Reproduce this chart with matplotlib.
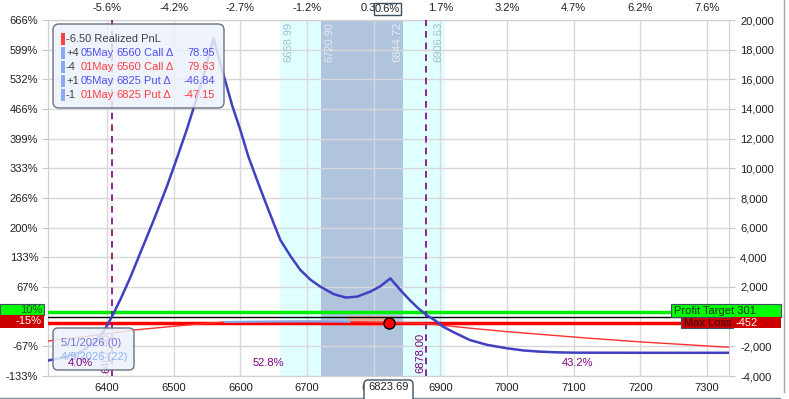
import matplotlib
matplotlib.use('Agg')
import numpy as np
import matplotlib.pyplot as plt
from matplotlib.patches import Rectangle, FancyBboxPatch
from matplotlib.lines import Line2D
from matplotlib.transforms import Affine2D, blended_transform_factory

plt.rcParams['font.family'] = ['Liberation Sans', 'DejaVu Sans']
plt.rcParams['font.size'] = 8

# ---------------- data ----------------
exp_price = [6312, 6330, 6350, 6365, 6380, 6395, 6407.4, 6420, 6435, 6450, 6470, 6490,
             6505, 6520, 6535, 6545, 6553, 6560, 6568, 6577, 6588, 6600, 6612, 6625,
             6637, 6650, 6660, 6675, 6690, 6705, 6720, 6740, 6758, 6775, 6795, 6810,
             6825, 6840, 6854, 6866, 6879, 6892, 6904, 6920, 6944, 6970, 7000, 7025,
             7050, 7075, 7100, 7200, 7333]
exp_pnl = [-2950, -2800, -2560, -2250, -1750, -1000, 0, 1150, 2650, 4300, 6500, 8800,
           10700, 12650, 14800, 16300, 17650, 18750, 17400, 15960, 14200, 12590, 10800, 9218,
           7800, 6298, 5172, 4100, 3150, 2500, 2023, 1520, 1290, 1350, 1686, 2050,
           2580, 1800, 1126, 600, 115, -250, -674, -1050, -1571, -1900, -2131, -2280,
           -2360, -2405, -2427, -2435, -2435]

t0_price = [6312, 6400, 6440, 6500, 6540, 6577, 6610, 6650, 6700, 6764, 6824, 6874,
            6950, 7000, 7124, 7200, 7333]
t0_pnl = [-1640, -1160, -900, -650, -480, -360, -340, -330, -320, -340, -400, -450,
          -800, -1010, -1456, -1700, -2063]
t0_blue_range = (6577, 6764)

pnl_ticks = [-4000, -2000, 2000, 4000, 6000, 8000, 10000, 12000, 14000, 16000, 18000, 20000]
pnl_labels = ['-4,000', '-2,000', '2,000', '4,000', '6,000', '8,000', '10,000', '12,000',
              '14,000', '16,000', '18,000', '20,000']
pct_labels = ['-133%', '-67%', '67%', '133%', '200%', '266%', '333%', '399%',
              '466%', '532%', '599%', '666%']
price_ticks = [6400, 6500, 6600, 6700, 6800, 6900, 7000, 7100, 7200, 7300]
move_labels = ['-5.6%', '-4.2%', '-2.7%', '-1.2%', '0.3%', '1.7%', '3.2%', '4.7%', '6.2%', '7.6%']

outer_band = (6658.99, 6906.63)
inner_band = (6720.90, 6844.72)
breakevens = [6407.40, 6878.00]
prob_labels = ['4.0%', '52.8%', '43.2%']
current_price = 6823.69
current_pnl = -400
current_move = '0.6%'
profit_target = 301
max_loss = -452
range_box = (6762, 6829, -620, 50)

legend_rows = [
    ('', '-6.50 Realized PnL', '', '', '', 'pnl'),
    ('+4', '05May', '6560', 'Call \u0394', '78.95', 'long'),
    ('-4', '01May', '6560', 'Call \u0394', '79.63', 'short'),
    ('+1', '05May', '6825', 'Put \u0394', '-46.84', 'long'),
    ('-1', '01May', '6825', 'Put \u0394', '-47.15', 'short'),
]
date_rows = ['5/1/2026 (0)', '4/9/2026 (22)']

# ---------------- figure ----------------
W, H = 789, 399
fig = plt.figure(figsize=(W / 100, H / 100), dpi=100)
fig.patch.set_facecolor('white')
ax = fig.add_axes([48 / W, 1 - 376 / H, (729 - 48) / W, (376 - 20) / H])
P = Affine2D().scale(1 / W, 1 / H) + fig.transFigure


def Y(y):
    return H - y


xmin, xmax = 6311.5, 7333
ax.set_xlim(xmin, xmax)
ax.set_ylim(-4000, 20000)

ax.axvspan(*outer_band, color='#e0ffff', lw=0, zorder=0.2)
ax.axvspan(*inner_band, color='#b0c4de', lw=0, zorder=0.3)

ax.set_xticks(price_ticks)
ax.set_yticks(pnl_ticks, labels=pnl_labels)
ax.grid(True, color='#d8d8d8', lw=1)
ax.yaxis.tick_right()
ax.tick_params(axis='y', length=4, color='#c8c8c8', pad=4, labelsize=8, labelcolor='#202020')
ax.tick_params(axis='x', length=0, pad=5, labelsize=8, labelcolor='#202020')
for s in ax.spines.values():
    s.set_color('#d0d0d0')

secl = ax.secondary_yaxis('left')
secl.set_yticks(pnl_ticks, labels=pct_labels)
secl.tick_params(length=4, color='#c8c8c8', pad=3, labelsize=8, labelcolor='#202020')
secl.spines['left'].set_color('#d0d0d0')

sect = ax.secondary_xaxis('top')
sect.set_xticks(price_ticks, labels=move_labels)
sect.tick_params(length=0, pad=5, labelsize=8, labelcolor='#202020')
sect.spines['top'].set_color('#d0d0d0')

# range box
ax.add_patch(Rectangle((range_box[0], range_box[2]), range_box[1] - range_box[0],
                       range_box[3] - range_box[2], facecolor='#e8a890', lw=0, zorder=2.5))

# horizontal levels
ax.axhline(profit_target, color='#00ee00', lw=2.5, zorder=3)
ax.axhline(0, color='black', lw=1, zorder=3)
ax.axhline(max_loss, color='#ff0000', lw=2.5, zorder=3)

# breakevens
bt = blended_transform_factory(ax.transData, P)
for be in breakevens:
    ax.axvline(be, color='#800080', lw=1.2, ls=(0, (4, 3)), zorder=3.5)
    ax.text(be - 8, Y(373), f'{be:.2f}', rotation=90, ha='center', va='bottom',
            color='#800080', fontsize=8, transform=bt, zorder=6)

# band labels
ax.text(outer_band[0] + 13, Y(22), f'{outer_band[0]:.2f}', rotation=90, ha='center', va='top',
        color='#a6bcd4', fontsize=8, transform=bt)
ax.text(inner_band[0] + 12.5, Y(22), f'{inner_band[0]:.2f}', rotation=90, ha='center', va='top',
        color='#e4ebf4', fontsize=8, transform=bt)
ax.text(inner_band[1] - 9, Y(22), f'{inner_band[1]:.2f}', rotation=90, ha='center', va='top',
        color='#e4ebf4', fontsize=8, transform=bt)
ax.text(outer_band[1] - 9.5, Y(22), f'{outer_band[1]:.2f}', rotation=90, ha='center', va='top',
        color='#a6bcd4', fontsize=8, transform=bt)

# T+0 line
tp = np.array(t0_price)
tv = np.array(t0_pnl)
ax.plot(tp, tv, color='#ff3030', lw=1, zorder=4)
m = (tp >= t0_blue_range[0]) & (tp <= t0_blue_range[1])
ax.plot(tp[m], tv[m], color='#80a8f0', lw=1.5, zorder=4.5)

# expiration line
ax.plot(exp_price, exp_pnl, color='#4040c0', lw=1.8, zorder=5)

# current price dot
ax.plot([current_price], [current_pnl], 'o', ms=8, mfc='#ff0000', mec='black', mew=1, zorder=7)

# ---------------- overlays (pixel coords) ----------------
box_fc = (0.93, 0.95, 0.985, 0.85)

# date box (inside axes so probability label can sit above it)
db = FancyBboxPatch((53, Y(370)), 81, 42, boxstyle='round,pad=0,rounding_size=5',
                    transform=P, fc=box_fc, ec='#6a7282', lw=1, zorder=8, clip_on=False)
ax.add_artist(db)
ax.text(61, Y(342.7), date_rows[0], transform=P, color='#7272d8', va='center', ha='left',
        fontsize=8, zorder=9, clip_on=False)
ax.text(61, Y(356.7), date_rows[1], transform=P, color='#90b4f4', va='center', ha='left',
        fontsize=8, zorder=9, clip_on=False)

# probability labels
edges = [xmin] + breakevens + [xmax]
for i, lab in enumerate(prob_labels):
    ax.text((edges[i] + edges[i + 1]) / 2, Y(362.7), lab, ha='center', va='center',
            color='#800080', fontsize=8, transform=bt, zorder=10)

fig.add_artist(FancyBboxPatch((53, Y(108)), 171, 84, boxstyle='round,pad=0,rounding_size=6',
                              transform=P, fc=box_fc, ec='#6a7282', lw=1, zorder=5))
row_y = [39.3, 53.3, 67.3, 81.3, 95.3]
for (sign, exp, strike, kind, delta, role), yy in zip(legend_rows, row_y):
    bar_c = '#ff4040' if role == 'pnl' else '#88aaee'
    fig.add_artist(Rectangle((61.3, Y(yy + 6)), 3.7, 12, transform=P, fc=bar_c, lw=0, zorder=6))
    if role == 'pnl':
        fig.text(66, Y(yy), exp, transform=P, color='#404040', va='center', ha='left', fontsize=8, zorder=7)
        continue
    c = '#5050f0' if role == 'long' else '#ff4040'
    fig.text(66, Y(yy), sign, transform=P, color='#404040', va='center', ha='left', fontsize=8, zorder=7)
    fig.text(81, Y(yy), exp, transform=P, color=c, va='center', ha='left', fontsize=8, zorder=7)
    fig.text(116, Y(yy), strike, transform=P, color=c, va='center', ha='left', fontsize=8, zorder=7)
    fig.text(144, Y(yy), kind, transform=P, color=c, va='center', ha='left', fontsize=8, zorder=7)
    fig.text(215, Y(yy), delta, transform=P, color=c, va='center', ha='right', fontsize=8, zorder=7)

# left level boxes
fig.add_artist(Rectangle((0, Y(315)), 44, 11, transform=P, fc='#00ff00', ec='#405060', lw=0.8, zorder=5))
fig.text(42, Y(310), '10%', transform=P, color='#1a4a1a', va='center', ha='right', fontsize=8, zorder=7)
fig.add_artist(Rectangle((0, Y(328)), 44, 13, transform=P, fc='#cc0000', lw=0, zorder=5))
fig.text(42, Y(321.5), '-15%', transform=P, color='white', va='center', ha='right', fontsize=8, zorder=7)

# right level boxes
fig.add_artist(Rectangle((671, Y(317.3)), 110, 13, transform=P, fc='#00ff00', ec='#405060', lw=0.8, zorder=5))
fig.text(674, Y(311), f'Profit Target {profit_target}', transform=P, color='#103010',
         va='center', ha='left', fontsize=8, zorder=7)
fig.add_artist(Rectangle((681, Y(328.3)), 52, 11, transform=P, fc='#cc0000', ec='#405060', lw=0.8, zorder=5))
fig.text(684, Y(323), 'Max Loss', transform=P, color='#301010', va='center', ha='left', fontsize=8, zorder=7)
fig.add_artist(Rectangle((733, Y(328.3)), 48, 11, transform=P, fc='#cc0000', lw=0, zorder=5))
fig.text(736, Y(323), f'{max_loss}', transform=P, color='white', va='center', ha='left', fontsize=8, zorder=7)

# current price markers on axes
fig.add_artist(Rectangle((374, Y(15)), 27, 12, transform=P, fc='white', ec='#405060', lw=1, zorder=5))
fig.text(387.5, Y(9), current_move, transform=P, color='#202020', va='center', ha='center', fontsize=8, zorder=7)
fig.add_artist(FancyBboxPatch((364, Y(404)), 49, 24, boxstyle='round,pad=0,rounding_size=4',
                              transform=P, fc='white', ec='#405060', lw=1, zorder=5))
fig.text(388.5, Y(387), f'{current_price:.2f}', transform=P, color='#202020', va='center',
         ha='center', fontsize=8, zorder=7)

# panel border
fig.add_artist(Line2D([0, 364], [Y(397.5), Y(397.5)], transform=P, color='#8090a0', lw=1, zorder=4))
fig.add_artist(Line2D([413, 780], [Y(397.5), Y(397.5)], transform=P, color='#8090a0', lw=1, zorder=4))
fig.add_artist(Line2D([784.5, 784.5], [Y(0), Y(392)], transform=P, color='#a0a8b4', lw=1, zorder=4))

fig.savefig('out.png', dpi=100)
